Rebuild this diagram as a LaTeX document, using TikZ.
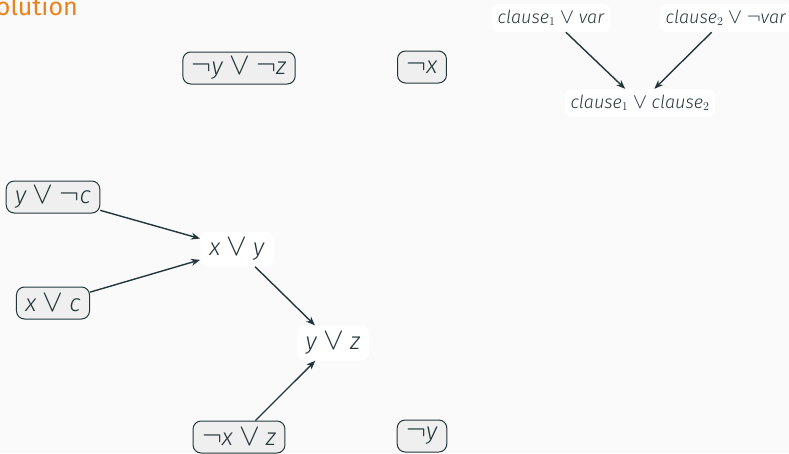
\documentclass[tikz,border=0pt]{standalone}
\usepackage{fontspec}
\setmainfont{Fira Sans}[UprightFont={* Light},ItalicFont={* Light Italic}]
\newfontfamily\titlefont{Fira Sans}
\usepackage{graphicx}
\usepackage{tikz}
\usetikzlibrary{arrows.meta,positioning}
\usepackage{xcolor}
\definecolor{ink}{HTML}{23373B}
\definecolor{titleorange}{HTML}{EB811B}
\definecolor{paper}{HTML}{FAFAFA}
\definecolor{boxgray}{HTML}{EFEFEF}
\newcommand{\vor}{\hspace{.25em}\scalebox{1.25}{$\vee$}\hspace{.25em}}
\newcommand{\vneg}{\scalebox{1.2}{$\neg$}}
\tikzset{clausebox/.style={draw=ink,fill=boxgray,rounded corners=8pt,line width=1pt,text=ink,inner xsep=9pt,minimum height=32pt,font=\fontsize{24}{26}\selectfont},resolvent/.style={fill=white,rounded corners=8pt,text=ink,inner xsep=9pt,minimum height=35pt,font=\fontsize{24}{26}\selectfont},rulelabel/.style={fill=white,rounded corners=7pt,text=ink,inner xsep=6pt,minimum height=28pt,font=\fontsize{18}{20}\selectfont},infer/.style={draw=ink,line width=1.4pt,-{Stealth[length=9pt,width=7pt]}}}
\begin{document}
\begin{tikzpicture}[x=1pt,y=1pt]
\fill[paper] (0,0) rectangle (789,-453);
\useasboundingbox (0,0) rectangle (789,-453);
\node[anchor=base east,inner sep=0,text=titleorange,font=\titlefont\fontsize{25}{30}\selectfont] (title) at (78,-15) {Resolution};
% the rule itself
\node[rulelabel] (prem1) at (551,-18) {\textit{clause}$_1$\vor\textit{var}};
\node[rulelabel] (prem2) at (726,-18) {\textit{clause}$_2$\vor\vneg\textit{var}};
\node[rulelabel] (concl) at (640,-103) {\textit{clause}$_1$\vor\textit{clause}$_2$};
\draw[infer] (prem1) -- (concl);
\draw[infer] (prem2) -- (concl);
% clauses
\node[clausebox] (nynz) at (239,-68) {\vneg\textit{y}\vor\vneg\textit{z}};
\node[clausebox] (nx) at (422,-67) {\vneg\textit{x}};
\node[clausebox] (ync) at (53,-197) {\textit{y}\vor\vneg\textit{c}};
\node[clausebox] (xc) at (53,-303) {\textit{x}\vor\textit{c}};
\node[clausebox] (nxz) at (239,-437) {\vneg\textit{x}\vor\textit{z}};
\node[clausebox] (ny) at (422,-436) {\vneg\textit{y}};
% derived clauses
\node[resolvent] (xy) at (237,-249) {\textit{x}\vor\textit{y}};
\node[resolvent] (yz) at (333,-343) {\textit{y}\vor\textit{z}};
\draw[infer] (ync) -- (xy);
\draw[infer] (xc) -- (xy);
\draw[infer] (xy) -- (yz);
\draw[infer] (nxz) -- (yz);
\end{tikzpicture}
\end{document}
